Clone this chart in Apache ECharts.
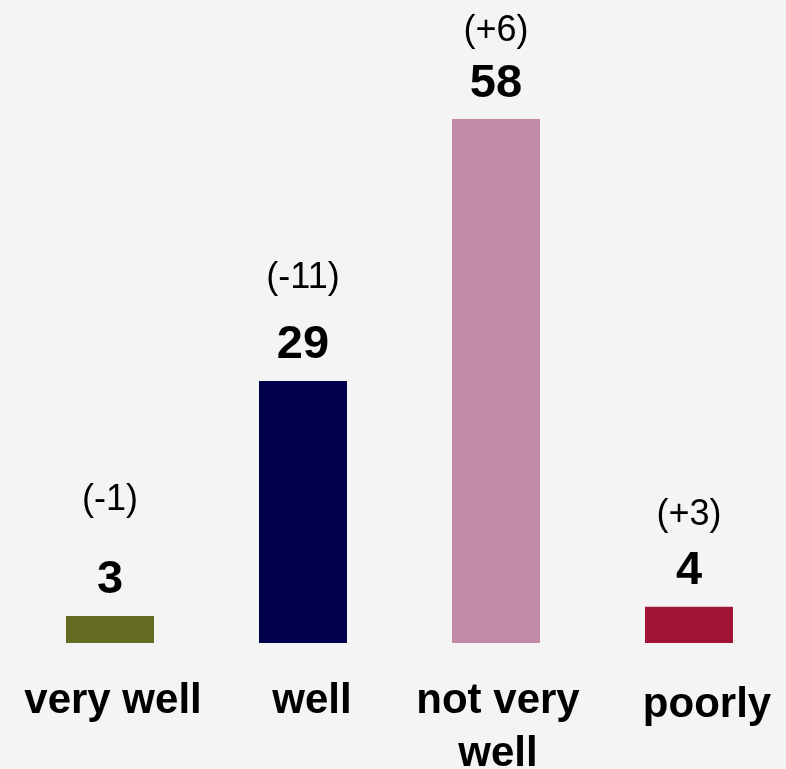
<!DOCTYPE html>
<html>
<head>
<meta charset="utf-8">
<script src="https://cdn.jsdelivr.net/npm/echarts@6/dist/echarts.min.js"></script>
<style>
  html, body { margin: 0; padding: 0; background: #f4f4f4; }
  #chart { width: 786px; height: 769px; }
</style>
</head>
<body>
<div id="chart"></div>
<script>
// Ratings and the change since the previous survey
const categories = ['very well', 'well', 'not very well', 'poorly'];
const shares = [3, 29, 58, 4];
const changes = ['(-1)', '(-11)', '(+6)', '(+3)'];

const barColors = ['#646c22', '#00004b', '#c08ba6', '#a01535'];
// how far each change label sits above its bar
const changeLift = [98, 85, 70, 74];
// small nudge of each category label: [top, left] padding in px
const labelNudge = [[0, 6], [0, 18], [0, 4], [4, 36]];

const FONT = '"Liberation Sans", Arial, sans-serif';

const chart = echarts.init(document.getElementById('chart'), null, { renderer: 'canvas' });

chart.setOption({
  backgroundColor: '#f4f4f4',
  animation: false,
  grid: { left: 13.5, right: 0.5, top: 101, bottom: 126, containLabel: false, outerBoundsMode: 'none' },
  xAxis: {
    type: 'category',
    data: categories.map((c, i) => ({
      value: c,
      textStyle: { padding: [labelNudge[i][0], 0, 0, labelNudge[i][1]] }
    })),
    axisLine: { show: false },
    axisTick: { show: false },
    axisLabel: {
      interval: 0,
      margin: 32,
      color: '#000',
      fontFamily: FONT,
      fontWeight: 'bold',
      fontSize: 42,
      lineHeight: 53,
      formatter: v => v === 'not very well' ? 'not very\nwell' : v
    }
  },
  yAxis: { type: 'value', min: 0, max: 60, show: false },
  series: [
    {
      type: 'bar',
      barWidth: 88,
      data: shares.map((v, i) => ({ value: v, itemStyle: { color: barColors[i] } })),
      label: {
        show: true,
        position: 'top',
        distance: 12,
        color: '#000',
        fontFamily: FONT,
        fontWeight: 'bold',
        fontSize: 47
      }
    },
    {
      type: 'bar',
      barWidth: 88,
      barGap: '-100%',
      silent: true,
      itemStyle: { color: 'rgba(0,0,0,0)' },
      data: shares.map((v, i) => ({
        value: v,
        label: { distance: changeLift[i] }
      })),
      label: {
        show: true,
        position: 'top',
        color: '#000',
        fontFamily: FONT,
        fontSize: 36,
        formatter: p => changes[p.dataIndex]
      }
    }
  ]
});
</script>
</body>
</html>
